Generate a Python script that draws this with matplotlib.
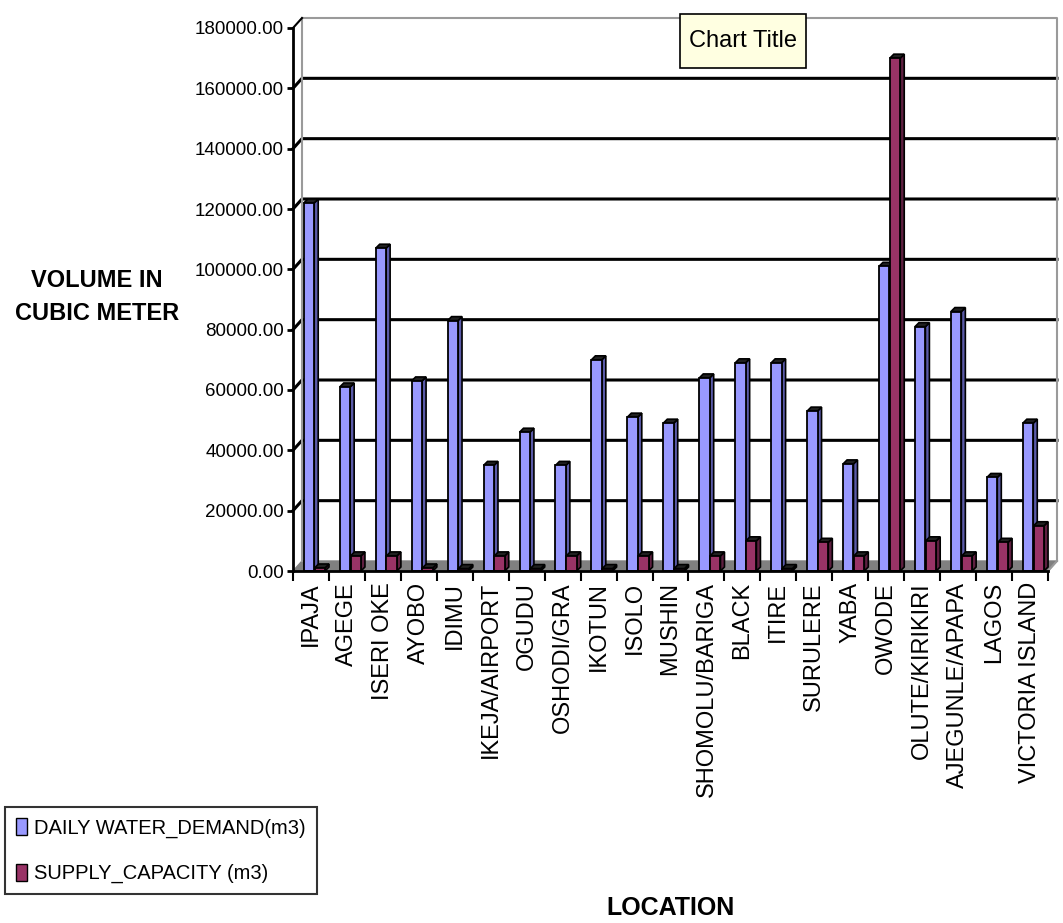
import matplotlib
matplotlib.use("Agg")
import matplotlib.pyplot as plt
import numpy as np
from matplotlib.patches import Polygon, Patch, Rectangle

locations = ["IPAJA", "AGEGE", "ISERI OKE", "AYOBO", "IDIMU", "IKEJA/AIRPORT",
             "OGUDU", "OSHODI/GRA", "IKOTUN", "ISOLO", "MUSHIN", "SHOMOLU/BARIGA",
             "BLACK", "ITIRE", "SURULERE", "YABA", "OWODE", "OLUTE/KIRIKIRI",
             "AJEGUNLE/APAPA", "LAGOS", "VICTORIA ISLAND"]
demand = [122000, 61000, 107000, 63000, 83000, 35000, 46000, 35000, 70000, 51000,
          49000, 64000, 69000, 69000, 53000, 35500, 101000, 81000, 86000, 31000, 49000]
supply = [1000, 5000, 5000, 1000, 800, 5000, 800, 5000, 800, 5000, 800, 5000,
          10000, 800, 9500, 5000, 170000, 10000, 5000, 9500, 15000]
yticks = np.arange(0, 180001, 20000)

plt.rcParams["font.family"] = ["Liberation Sans", "DejaVu Sans"]

W, H = 1063, 923
fig = plt.figure(figsize=(W / 100, H / 100), dpi=100)
fig.patch.set_facecolor("white")

# front plane of the 3-D box
ax = fig.add_axes([293 / W, 1 - 571 / H, (1048 - 293) / W, (571 - 28) / H])
ax.set_xlim(-0.5, len(locations) - 0.5)
ax.set_ylim(0, 180000)
ax.patch.set_alpha(0)

inv = ax.transData.inverted()
def px_to_data(dx, dy):
    a = inv.transform((0, 0))
    b = inv.transform((dx, dy))
    return b[0] - a[0], b[1] - a[1]

wall_dx, wall_dy = px_to_data(9, 10)
bar_dx, bar_dy = px_to_data(4, 4)
x0, x1 = -0.5, len(locations) - 0.5
top = yticks[-1]

# floor
ax.add_patch(Polygon([(x0, 0), (x1, 0), (x1 + wall_dx, wall_dy), (x0 + wall_dx, wall_dy)],
                     closed=True, facecolor="#808080", edgecolor="#808080",
                     lw=1, zorder=1, clip_on=False))

# grid lines on the side and back walls
for v in yticks[1:-1]:
    ax.plot([x0, x0 + wall_dx, x1 + wall_dx], [v, v + wall_dy, v + wall_dy],
            color="black", lw=2.2, zorder=1, clip_on=False)
wall_grey = "#9a9a9a"
ax.plot([x0 + wall_dx, x0 + wall_dx, x1 + wall_dx, x1 + wall_dx],
        [wall_dy, top + wall_dy, top + wall_dy, wall_dy],
        color=wall_grey, lw=1.5, zorder=1, clip_on=False)
ax.plot([x0, x0 + wall_dx], [top, top + wall_dy], color="black", lw=1.5,
        zorder=1, clip_on=False)
ax.plot([x1, x1 + wall_dx], [0, wall_dy], color=wall_grey, lw=1.5, zorder=1,
        clip_on=False)

x = np.arange(len(locations))
bw = 0.29
series = [
    (demand, x - 0.2, "#9999FF", "#5a5aa8"),
    (supply, x + 0.1, "#993366", "#5e1f40"),
]
for vals, lefts, face, side in series:
    ax.bar(lefts, vals, width=bw, align="edge", color=face, edgecolor="black",
           lw=1.3, zorder=3)
    for xl, v in zip(lefts, vals):
        xr = xl + bw
        ax.add_patch(Polygon([(xr, 0), (xr + bar_dx, bar_dy), (xr + bar_dx, v + bar_dy), (xr, v)],
                             closed=True, facecolor=side, edgecolor="black", lw=1.2,
                             zorder=2.9, clip_on=False))
        ax.add_patch(Polygon([(xl, v), (xr, v), (xr + bar_dx, v + bar_dy), (xl + bar_dx, v + bar_dy)],
                             closed=True, facecolor="#202020", edgecolor="black", lw=1.2,
                             zorder=2.9, clip_on=False))

for s in ["top", "right"]:
    ax.spines[s].set_visible(False)
for s in ["left", "bottom"]:
    ax.spines[s].set_linewidth(2)
    ax.spines[s].set_zorder(4)

ax.set_yticks(yticks)
ax.set_yticklabels([f"{v:.2f}" for v in yticks], fontsize=13.5)
ax.tick_params(axis="y", direction="out", length=4.5, width=2, pad=2)

ax.set_xticks(x)
ax.set_xticklabels(locations, rotation=90, fontsize=17, va="top", ha="center")
ax.set_xticks(np.arange(len(locations) + 1) - 0.5, minor=True)
ax.tick_params(axis="x", which="major", length=0, pad=8)
ax.tick_params(axis="x", which="minor", direction="out", length=7.5, width=1.5)

fig.text(97 / W, 1 - 297 / H, "VOLUME IN\nCUBIC METER", ha="center", va="center",
         fontsize=17, fontweight="bold", linespacing=1.6)
fig.text(670 / W, 1 - 908 / H, "LOCATION", ha="center", va="center",
         fontsize=18, fontweight="bold")

# tooltip-style title
fig.add_artist(Rectangle((680 / W, 1 - 68 / H), 126 / W, 54 / H, transform=fig.transFigure,
                         facecolor="#FFFFE1", edgecolor="black", lw=1.2))
fig.text(743 / W, 1 - 41 / H, "Chart Title", ha="center", va="center", fontsize=17)

handles = [Patch(facecolor="#9999FF", edgecolor="black"),
           Patch(facecolor="#993366", edgecolor="black")]
leg = fig.legend(handles, ["DAILY WATER_DEMAND(m3)", "SUPPLY_CAPACITY (m3)"],
                 loc="upper left", bbox_to_anchor=(5 / W, 1 - 807 / H),
                 fontsize=14.5, frameon=True, fancybox=False, edgecolor="black",
                 handlelength=0.55, handleheight=0.9, handletextpad=0.35,
                 borderpad=0.55, labelspacing=1.3, borderaxespad=0)
leg.get_frame().set_linewidth(1.5)

fig.savefig("out.png", dpi=100)
